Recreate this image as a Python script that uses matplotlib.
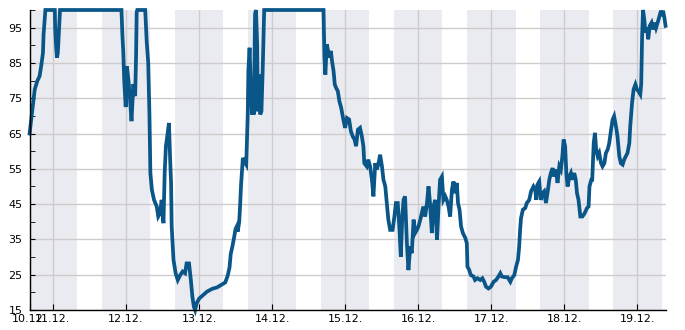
import numpy as np
import pandas as pd
import matplotlib
matplotlib.use('Agg')
import matplotlib.pyplot as plt
import matplotlib.dates as mdates
from matplotlib.ticker import MultipleLocator

# hours counted from 10.12. 00:00
hours = [16.3, 16.9, 17.4, 18.0, 18.8, 19.6, 20.2, 20.7, 20.9, 21.5,
         24.6, 24.7, 25.0, 25.3, 25.6, 26.0, 26.3, 46.5, 46.8, 47.1,
         47.4, 47.9, 48.3, 48.8, 49.2, 49.8, 50.4, 51.0, 51.3, 51.5,
         51.7, 54.3, 54.8, 55.3, 55.7, 56.0, 56.5, 57.2, 58.1, 58.6,
         59.2, 59.7, 60.3, 60.7, 61.1, 61.7, 62.1, 62.5, 62.8, 63.0,
         63.6, 64.3, 65.0, 65.8, 66.6, 67.4, 67.9, 68.7, 69.3, 69.8,
         70.3, 70.7, 71.2, 72.1, 73.3, 74.6, 76.3, 77.9, 79.6, 80.6,
         81.4, 82.0, 82.4, 83.0, 83.5, 84.0, 84.4, 84.7, 85.2, 85.5,
         85.8, 86.4, 86.9, 87.5, 87.7, 88.0, 88.2, 88.6, 88.9, 89.4,
         89.7, 90.0, 90.4, 90.7, 91.1, 91.3, 91.6, 92.1, 92.5, 92.9,
         93.4, 112.9, 113.2, 113.5, 114.0, 114.4, 114.8, 115.3, 115.7, 116.2,
         116.6, 117.0, 117.6, 118.1, 118.7, 119.4, 120.0, 120.6, 121.3, 121.9,
         122.5, 123.1, 123.6, 124.2, 124.9, 125.5, 126.0, 126.3, 127.1, 127.6,
         128.2, 128.8, 129.3, 129.9, 130.4, 131.0, 131.5, 132.1, 132.6, 133.2,
         133.7, 134.2, 134.8, 135.6, 136.2, 136.7, 137.3, 137.8, 138.3, 138.8,
         139.2, 139.7, 140.3, 140.8, 141.4, 141.9, 142.5, 143.0, 143.6, 144.1,
         144.7, 145.2, 145.7, 146.3, 146.9, 147.4, 147.9, 148.5, 149.0, 149.6,
         150.2, 150.7, 151.2, 151.8, 152.3, 152.9, 153.4, 154.0, 154.5, 155.1,
         155.6, 156.2, 156.7, 157.1, 157.6, 158.1, 158.7, 159.5, 160.0, 160.2,
         160.8, 161.3, 162.2, 162.7, 163.5, 164.4, 165.1, 165.7, 166.3, 167.1,
         167.9, 168.8, 169.6, 170.4, 171.0, 171.5, 172.4, 173.4, 174.3, 174.8,
         175.6, 176.2, 176.8, 177.2, 177.5, 177.8, 178.4, 179.2, 179.7, 180.5,
         181.1, 181.9, 182.5, 182.8, 183.2, 183.8, 184.3, 184.9, 185.4, 186.0,
         186.5, 187.1, 187.6, 188.2, 188.7, 189.3, 189.8, 190.4, 190.9, 191.4,
         191.8, 192.3, 192.7, 193.1, 193.7, 194.2, 194.7, 195.3, 195.8, 196.2,
         196.7, 197.3, 198.0, 198.7, 199.5, 200.0, 200.3, 200.9, 201.2, 201.7,
         202.1, 202.5, 203.0, 203.5, 204.1, 204.6, 205.2, 205.7, 206.3, 206.8,
         207.4, 207.9, 208.4, 209.0, 209.5, 210.1, 210.6, 211.2, 211.7, 212.3,
         212.8, 213.4, 213.7, 214.3, 214.8, 215.4, 215.9, 216.4, 217.0, 217.3,
         217.6, 217.9, 218.3, 218.7, 219.2, 219.6, 220.1, 220.7, 221.2, 221.8,
         222.2, 222.7, 223.3, 223.8, 224.2, 224.5, 225.0, 225.3]
values = [65, 69.4, 73.2, 77.5, 79.8, 81.3, 84.6, 87.9, 93.1, 100,
          100, 95, 90, 86.5, 88, 95, 100, 100, 93, 88,
          80, 72.5, 84, 80, 76, 68.5, 79, 75.6, 87, 99.3,
          100, 100, 91, 85, 70, 53.8, 49, 46.2, 44.3, 41.5,
          42.4, 46.2, 39.6, 53.8, 61.4, 65.2, 68, 57.6, 51, 38.7,
          29.2, 25.4, 23.5, 24.9, 25.9, 25.4, 28.2, 28.2, 23.5, 18.8,
          15.9, 15, 16.9, 18.3, 19.2, 20.2, 21, 21.4, 22.3, 22.8,
          24.7, 27, 30.8, 33.2, 35.5, 38, 38.7, 37.2, 40, 44.8,
          50.5, 58.1, 57.1, 56.2, 61.9, 70.4, 82.7, 89.3, 80.8, 70.4,
          78, 70.4, 98.8, 100, 90.3, 71.3, 81.7, 70.4, 71.3, 82.7,
          100, 100, 86.5, 81.7, 90.3, 88.4, 86.5, 88.4, 85.5, 82.7,
          78.9, 78, 77, 74.2, 72.3, 69, 66.6, 69.4, 69, 65.6,
          64.2, 63.3, 61.4, 66.1, 66.6, 64.2, 61.4, 56.6, 55.7, 57.6,
          55.7, 51.9, 47.2, 56.6, 54.8, 56.6, 59, 55.7, 51.9, 50,
          45.3, 40.6, 37.7, 37.7, 41.5, 45.3, 45.3, 38.7, 30.1, 41.5,
          46.2, 47.2, 33.9, 26.3, 33, 31.1, 40.6, 36.8, 37.7, 38.7,
          40.6, 42.4, 44.3, 41.5, 45.3, 50, 45.3, 36.8, 44.3, 46.2,
          34.9, 44.3, 51.9, 52.8, 46.2, 47.2, 46.2, 44.3, 41.5, 49.1,
          51.4, 48.1, 51, 45.3, 43.4, 38.7, 36.8, 35.4, 33.9, 27.3,
          26.3, 24.9, 24.5, 23.5, 24, 23.5, 24, 23, 21.6, 21.1,
          21.6, 23, 23.5, 24.5, 25.4, 24.5, 24.3, 24.3, 23, 24,
          24.9, 27.3, 29.2, 33, 37.7, 41, 43.4, 43.9, 45.3, 46.2,
          48.6, 50, 49.1, 46.2, 50.5, 51.4, 46.2, 48.1, 48.6, 45.3,
          48.1, 51.9, 53.8, 55.2, 52.8, 54.8, 51, 55.7, 54.8, 58.6,
          63.3, 61.4, 53.8, 50, 52.8, 53.8, 51.9, 53.8, 51.9, 48.1,
          46.2, 41.5, 41.5, 42.4, 43.9, 44.3, 50, 51.9, 51.9, 62.3,
          65.2, 60.5, 58.6, 59.5, 56.6, 55.7, 56.6, 59.5, 60.5, 62.3,
          66.1, 68.9, 69.9, 67.1, 64.2, 58.6, 56.6, 56.2, 57.6, 58.6,
          59.5, 62.3, 67.1, 73.7, 77.5, 78.9, 77.5, 77, 76.1, 79,
          92.6, 100, 97.4, 93.6, 95, 91.7, 95.5, 96.4, 94.5, 96.4,
          95, 96.4, 98.3, 99.8, 98.3, 99.8, 97.4, 95.5]

start_hour = 16.44
end_hour = 225.45
night_start_hour = 16   # shaded 16:00 -> 08:00
night_length = 16
day_labels = ['10.12.', '11.12.', '12.12.', '13.12.', '14.12.', '15.12.',
              '16.12.', '17.12.', '18.12.', '19.12.']

base = pd.Timestamp('2023-12-10 00:00')
times = base + pd.to_timedelta(hours, unit='h')

plt.rcParams['font.family'] = 'DejaVu Sans'
fig = plt.figure(figsize=(6.85, 3.3), dpi=100)
ax = fig.add_axes([30 / 685, 20 / 330, 636 / 685, 300 / 330])

# night bands
for d in range(len(day_labels) - 1):
    t0 = base + pd.Timedelta(days=d, hours=night_start_hour)
    t1 = t0 + pd.Timedelta(hours=night_length)
    ax.axvspan(t0, t1, color='#eaebf1', lw=0, zorder=0)

ax.plot(times, values, color='#0b5689', lw=2.7, zorder=3, clip_on=False,
        solid_joinstyle='miter')

ax.set_xlim(base + pd.Timedelta(hours=start_hour), base + pd.Timedelta(hours=end_hour))
ax.set_ylim(15, 100)

xt = [base + pd.Timedelta(hours=start_hour)] + [base + pd.Timedelta(days=d) for d in range(1, len(day_labels))]
ax.set_xticks(xt)
ax.set_xticklabels(day_labels)
ax.yaxis.set_major_locator(MultipleLocator(10, offset=5))
ax.set_yticks(np.arange(15, 100, 10))
ax.set_yticks(np.arange(20, 101, 10), minor=True)

ax.grid(True, which='major', color='#cccccc', lw=1)
ax.set_axisbelow(True)
ax.tick_params(axis='both', which='both', direction='in', labelsize=8, color='black')
ax.tick_params(axis='x', length=4.5, pad=3)
ax.tick_params(axis='y', which='both', length=3.5, pad=5.5)
for s in ['top', 'right']:
    ax.spines[s].set_visible(False)
for s in ['left', 'bottom']:
    ax.spines[s].set_linewidth(1)
    ax.spines[s].set_zorder(4)

fig.savefig('out.png', dpi=100)
